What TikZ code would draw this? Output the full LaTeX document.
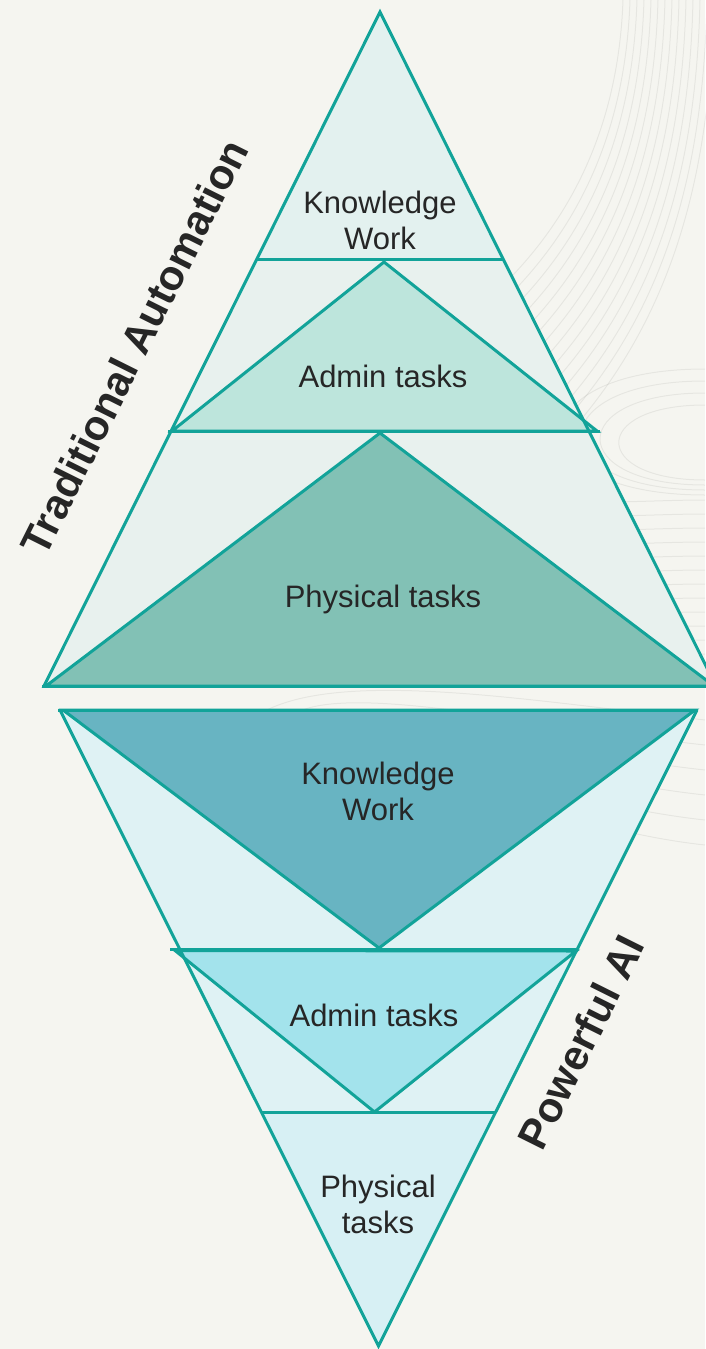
\documentclass[tikz,border=0pt]{standalone}
\usepackage{fontspec}
\setmainfont{Liberation Sans}
\definecolor{paper}{HTML}{F5F5F0}
\definecolor{tealline}{HTML}{12A399}
\definecolor{ink}{HTML}{262626}
\definecolor{topband}{HTML}{E8F1EE}
\definecolor{topknow}{HTML}{E3F1EF}
\definecolor{topadmin}{HTML}{BDE5DC}
\definecolor{topphys}{HTML}{82C1B5}
\definecolor{botband}{HTML}{DFF2F4}
\definecolor{botknow}{HTML}{68B4C2}
\definecolor{botadmin}{HTML}{A3E3EC}
\definecolor{botphys}{HTML}{D7F0F4}
\begin{document}
\begin{tikzpicture}[x=1pt,y=-1pt,line join=miter,
    tealedge/.style={draw=tealline,line width=3pt},
    tasklbl/.style={text=ink,font=\fontsize{31}{36}\selectfont,align=center},
    sidelbl/.style={text=ink,font=\fontsize{42}{48}\selectfont\bfseries,rotate=63.5},
    bgline/.style={draw=black,opacity=.06,line width=1pt}]
    \useasboundingbox (0,0) rectangle (705,1349);
    \fill[paper] (0,0) rectangle (705,1349);
    % faint contour lines
    \foreach \i in {0,...,13}
        \draw[bgline] (623+7*\i,0) .. controls (618+7*\i,140+8*\i) and (560+6*\i,250+12*\i) .. (450,330+16*\i)
        .. controls (380,380+16*\i) and (400,480+14*\i) .. (520,500+14*\i)
        .. controls (600,505+14*\i) and (650,500+14*\i) .. (705,500+14*\i);
    \foreach \k in {0,...,3}
        \draw[bgline] (705,405-12*\k) .. controls (590-25*\k,405-12*\k) and (590-25*\k,480+5*\k) .. (705,480+5*\k);
    \foreach \i in {0,...,5}
        \draw[bgline] (705,720+25*\i) .. controls (520,700+25*\i) and (300,660+10*\i) .. (240+40*\i,730);

    % traditional automation pyramid
    \coordinate (ta) at (380,12);
    \coordinate (tl) at (44,686);
    \coordinate (tr) at (716,686);
    \fill[topband] (ta)--(tl)--(tr)--cycle;
    \fill[topknow] (ta)--(257,259.3)--(503,259.3)--cycle;
    \filldraw[topphys,tealedge] (380,433)--(46,686)--(714,686)--cycle;
    \filldraw[topadmin,tealedge] (384,262)--(172,431)--(597,431)--cycle;
    \draw[tealedge]
    (257,259.3)--(503,259.3)
    (168,431.5)--(600,431.5)
    (42,686)--(716,686)
    ;
    \draw[tealedge] (tl)--(ta)--(tr);

    % powerful ai funnel
    \coordinate (bl) at (60,710);
    \coordinate (br) at (697,710);
    \coordinate (bb) at (378.5,1346);
    \fill[botband] (bl)--(br)--(bb)--cycle;
    \filldraw[botknow,tealedge] (63,710)--(695,710)--(379,948)--cycle;
    \filldraw[botadmin,tealedge] (175,950.5)--(576,951)--(374.5,1112)--cycle;
    \fill[botphys] (261,1112)--(496,1112)--(bb)--cycle;
    \draw[tealedge]
    (58,710)--(698,710)
    (170,949.5)--(578,949.5)
    (262,1112)--(495,1112)
    ;
    \draw[tealedge] (bl)--(bb)--(br);

    \node[tasklbl] (tknow) at (380,220) {Knowledge\\Work};
    \node[tasklbl,anchor=base] (tadmin) at (383,387) {Admin tasks};
    \node[tasklbl,anchor=base] (tphys) at (383,607) {Physical tasks};
    \node[tasklbl] (bknow) at (378,791) {Knowledge\\Work};
    \node[tasklbl,anchor=base] (badmin) at (374,1026) {Admin tasks};
    \node[tasklbl] (bphys) at (378,1204) {Physical\\tasks};

    \node[sidelbl] (trad) at (134,347) {Traditional Automation};
    \node[sidelbl] (pai) at (581,1042) {Powerful AI};
\end{tikzpicture}
\end{document}
